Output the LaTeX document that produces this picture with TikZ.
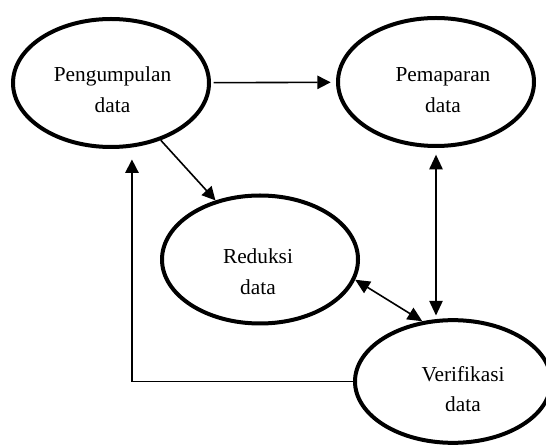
\documentclass[tikz,border=0pt]{standalone}
\usepackage{fontspec}
\setmainfont{Liberation Serif}
\usetikzlibrary{shapes.geometric,arrows.meta}
\begin{document}
\begin{tikzpicture}[x=0.75pt,y=-0.75pt,
    stage/.style={ellipse,draw,line width=3pt,minimum width=147pt,minimum height=96pt,inner sep=0pt},
    txt/.style={align=center,inner sep=0pt,font=\fontsize{16}{23}\selectfont},
    flow/.style={line width=1.2pt,-{Triangle[length=10pt,width=10pt]}},
    twoway/.style={line width=1.2pt,{Triangle[length=11pt,width=10pt]}-{Triangle[length=11pt,width=10pt]}}]
  \useasboundingbox (0,0) rectangle (546,448);

    %stages
    \node (E1) at (111,83) [stage]{};
    \node (E2) at (436,82) [stage]{};
    \node (E3) at (260,259.5) [stage]{};
    \node (E4) at (453,381.5) [stage,minimum height=92pt]{};

    %texts
    \node (T1) at ([shift={(1.5,6.5)}]E1) [txt]{Pengumpulan\\data};
    \node (T2) at ([shift={(7,8)}]E2) [txt]{Pemaparan\\data};
    \node (T3) at ([shift={(-2,12.5)}]E3) [txt]{Reduksi\\data};
    \node (T4) at ([shift={(10,7.5)}]E4) [txt]{Verifikasi\\data};

    %arrows
    \draw [flow,shorten <=2pt,shorten >=4pt] (E1) -- (E2);
    \draw [flow] (E1.-49) -- (E3.127);
    \draw [twoway,shorten <=5pt,shorten >=2pt] (E2.south) -- (E2.south |- E4.north);
    \draw [twoway] (E3.-12) -- (E4.117);
    \draw [flow,shorten >=9pt] (E4.west) -| (E1.-72);
\end{tikzpicture}
\end{document}
